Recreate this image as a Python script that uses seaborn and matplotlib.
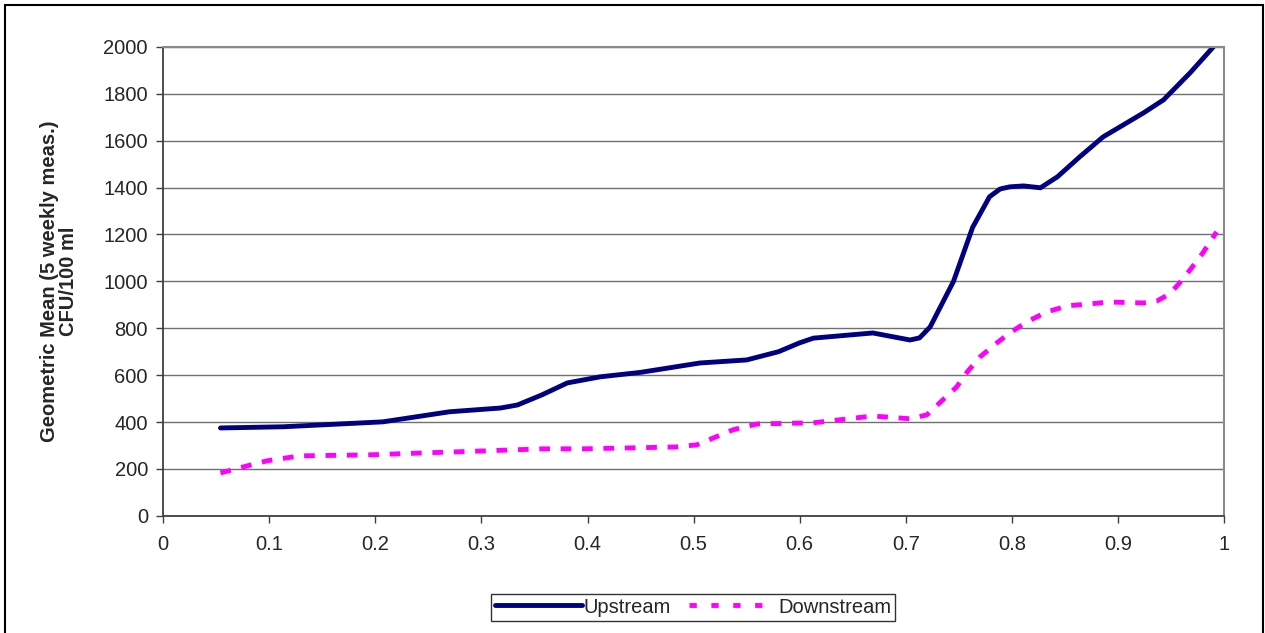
import pandas as pd
import matplotlib.pyplot as plt
from matplotlib.patches import Rectangle
from matplotlib.lines import Line2D
import seaborn as sns

# Values
up_x = [0.054, 0.113, 0.207, 0.27, 0.318, 0.334, 0.357, 0.381, 0.412, 0.45, 0.506, 0.55,
        0.58, 0.6, 0.613, 0.669, 0.704, 0.713, 0.723, 0.745, 0.763, 0.779, 0.789, 0.798,
        0.811, 0.827, 0.843, 0.864, 0.886, 0.924, 0.943, 0.968, 0.99]
up_y = [375, 380, 401, 444, 460, 473, 516, 567, 593, 612, 652, 665,
        700, 738, 758, 780, 750, 759, 806, 1000, 1230, 1361, 1394, 1403,
        1407, 1399, 1446, 1531, 1616, 1718, 1774, 1889, 2000]

down_x = [0.054, 0.079, 0.098, 0.129, 0.192, 0.249, 0.302, 0.358, 0.396, 0.44, 0.484, 0.503,
          0.537, 0.56, 0.613, 0.669, 0.704, 0.72, 0.735, 0.748, 0.758, 0.77, 0.786, 0.798,
          0.814, 0.833, 0.853, 0.874, 0.891, 0.924, 0.937, 0.949, 0.959, 0.968, 0.98, 0.993]
down_y = [183, 213, 235, 256, 260, 269, 277, 286, 286, 290, 294, 303,
          367, 392, 397, 426, 414, 431, 495, 550, 614, 678, 738, 780,
          827, 870, 896, 904, 912, 908, 917, 947, 998, 1049, 1121, 1211]

up = pd.DataFrame({'x': up_x, 'y': up_y})
down = pd.DataFrame({'x': down_x, 'y': down_y})

sns.set_theme(style='white')
plt.rcParams['font.family'] = ['Liberation Sans', 'DejaVu Sans']

fig, ax = plt.subplots(figsize=(12.65, 6.33), dpi=100)
fig.subplots_adjust(left=0.129, right=0.9676, bottom=0.185, top=0.926)

sns.lineplot(data=up, x='x', y='y', color='#000080', lw=3.5, sort=False, ax=ax)
sns.lineplot(data=down, x='x', y='y', color='#ff00ff', lw=3.5, sort=False, ax=ax)
ax.lines[1].set_dashes([2.2, 2.2])

ax.set_xlim(0, 1)
ax.set_ylim(0, 2000)
ax.set_xticks([i / 10 for i in range(11)])
ax.set_xticklabels(['0', '0.1', '0.2', '0.3', '0.4', '0.5', '0.6', '0.7', '0.8', '0.9', '1'])
ax.set_yticks(range(0, 2001, 200))

ax.grid(axis='y', color='#707070', lw=1)
ax.set_axisbelow(True)
ax.tick_params(axis='both', which='major', labelsize=14.5, length=5, width=1,
               color='#404040', direction='out', left=True, bottom=True)
ax.tick_params(axis='x', pad=9)
ax.tick_params(axis='y', pad=6)

for s in ['left', 'bottom']:
    ax.spines[s].set_color('#404040')
    ax.spines[s].set_linewidth(1.3)
for s in ['top', 'right']:
    ax.spines[s].set_color('#8a8a8a')
    ax.spines[s].set_linewidth(1.5)

ax.set_xlabel('')
ax.set_ylabel('Geometric Mean (5 weekly meas.)\nCFU/100 ml', fontsize=14.5,
              fontweight='bold', linespacing=1.05)
ax.yaxis.set_label_coords(-0.08, 0.5)

# legend with its own handles (wider dash gaps, as in the reference)
handles = [Line2D([], [], color='#000080', lw=3.5),
           Line2D([], [], color='#ff00ff', lw=3.5, dashes=[1.5, 3])]
leg = fig.legend(handles, ['Upstream', 'Downstream'], loc='center',
                 bbox_to_anchor=(0.548, 0.041), ncol=2, fontsize=14.5, frameon=True,
                 fancybox=False, handlelength=4.3, handletextpad=0.1, columnspacing=0.9,
                 borderpad=0.2, borderaxespad=0)
leg.get_frame().set_edgecolor('black')
leg.get_frame().set_linewidth(1)

# outer chart border
fig.patches.append(Rectangle((0.0042, -0.01), 0.9942, 1.0026, transform=fig.transFigure,
                             fill=False, ec='black', lw=1.5))

plt.savefig('out.png', dpi=100)
